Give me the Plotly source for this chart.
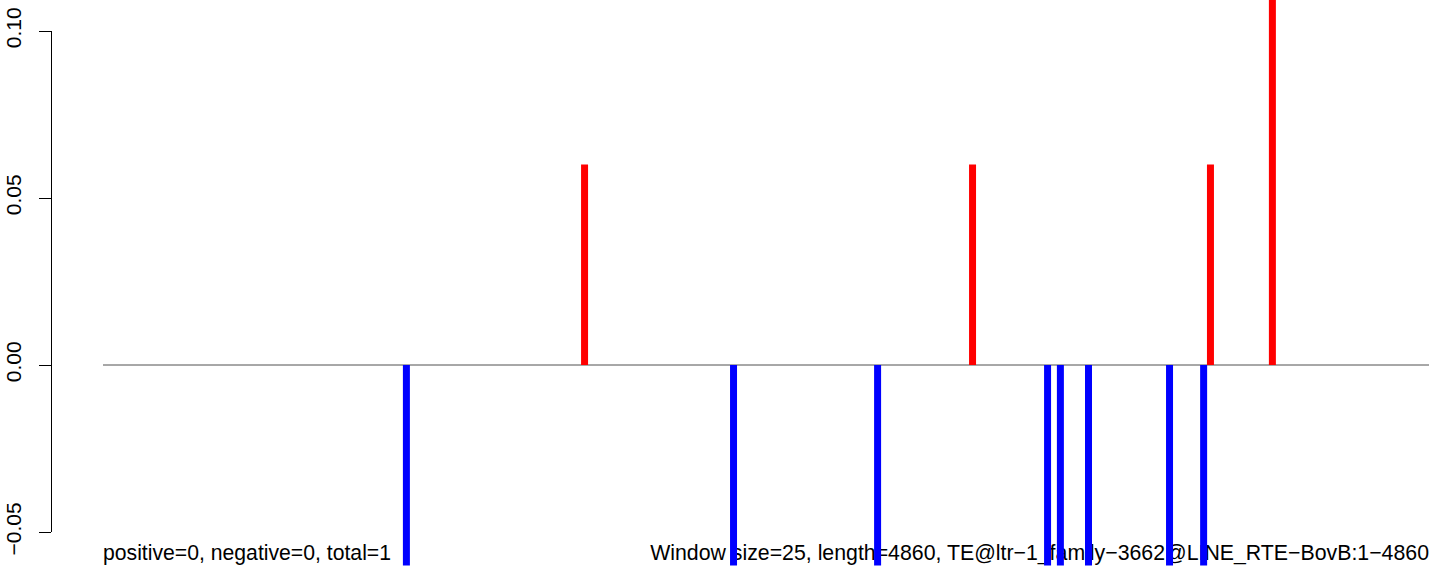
import plotly.graph_objects as go

# data
pos_x = [1765, 3187, 4059, 4286]
pos_y = [0.06, 0.06, 0.06, 0.12]
neg_x = [1112, 2311, 2839, 3462, 3509, 3612, 3909, 4034]
neg_y = [-0.06, -0.06, -0.06, -0.06, -0.06, -0.06, -0.06, -0.06]
seq_len = 4860
tick_vals = [-0.05, 0.0, 0.05, 0.10]
tick_text = ["\u22120.05", "0.00", "0.05", "0.10"]
left_label = "positive=0, negative=0, total=1"
right_label = "Window size=25, length=4860, TE@ltr\u22121_family\u22123662@LINE_RTE\u2212BovB:1\u22124860"

W, H = 1429, 571
L = 51
x0_px = 103
ppu_x = (W - x0_px) / seq_len
x_lo = -(x0_px - L) / ppu_x
ppu_y = 3340.0
y0_px = 365
y_hi = y0_px / ppu_y
y_lo = -(H - y0_px) / ppu_y

FONT = "Liberation Sans, Arial, Helvetica, sans-serif"


def segs(xs, ys):
    X, Y = [], []
    for x, y in zip(xs, ys):
        X += [x, x, None]
        Y += [0, y, None]
    return X, Y


fig = go.Figure()
# text first so bars are drawn over it
fig.add_trace(go.Scatter(x=[0], y=[-0.0569], mode="text", text=[left_label],
                         textposition="middle right", cliponaxis=False,
                         textfont=dict(size=21.2, color="black", family=FONT),
                         hoverinfo="skip", showlegend=False))
fig.add_trace(go.Scatter(x=[seq_len], y=[-0.0569], mode="text", text=[right_label],
                         textposition="middle left", cliponaxis=False,
                         textfont=dict(size=21.3, color="black", family=FONT),
                         hoverinfo="skip", showlegend=False))
# zero line
fig.add_trace(go.Scatter(x=[0, seq_len], y=[0, 0], mode="lines",
                         line=dict(color="rgb(80,80,80)", width=1),
                         hoverinfo="skip", showlegend=False))
px_, py_ = segs(pos_x, pos_y)
fig.add_trace(go.Scatter(x=px_, y=py_, mode="lines", line=dict(color="#FF0000", width=7),
                         showlegend=False))
nx_, ny_ = segs(neg_x, neg_y)
fig.add_trace(go.Scatter(x=nx_, y=ny_, mode="lines", line=dict(color="#0000FF", width=7),
                         showlegend=False))
# dummy trace for the displayed axis
fig.add_trace(go.Scatter(x=[None], y=[None], yaxis="y2", showlegend=False, hoverinfo="skip"))

fig.update_layout(
    width=W, height=H,
    margin=dict(l=L, r=0, t=0, b=0, autoexpand=False),
    paper_bgcolor="white", plot_bgcolor="rgba(0,0,0,0)",
    xaxis=dict(range=[x_lo, seq_len], visible=False, fixedrange=True, automargin=False),
    yaxis=dict(range=[y_lo, y_hi], visible=False, fixedrange=True, automargin=False),
    yaxis2=dict(
        domain=[(H - 532) / H, (H - 31) / H],
        range=[-0.05, 0.10],
        anchor="free", position=0, side="left", automargin=False,
        tickvals=tick_vals, ticktext=tick_text,
        showline=True, linecolor="black", linewidth=1.3,
        ticks="outside", ticklen=12, tickcolor="black", tickwidth=1.3,
        tickangle=-90, ticklabelstandoff=9,
        tickfont=dict(size=21, color="black", family=FONT),
        showgrid=False, zeroline=False, fixedrange=True,
    ),
    showlegend=False,
)

fig.write_html("out.html", config={"displayModeBar": False},
               post_script="document.body.style.margin='0';document.body.style.overflow='hidden';")
